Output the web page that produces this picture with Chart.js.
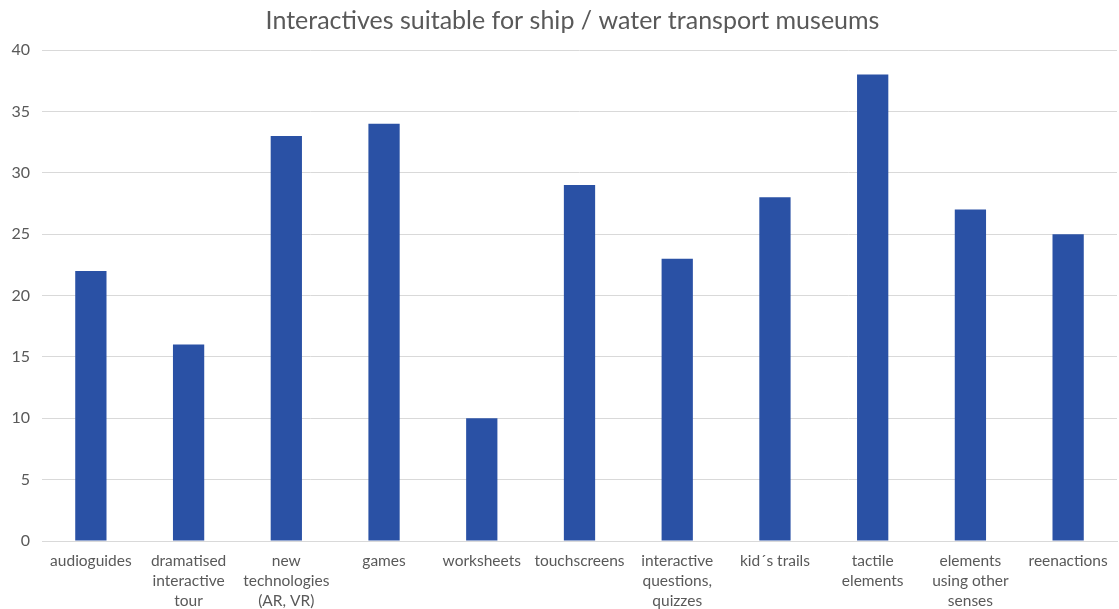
<!DOCTYPE html>
<html lang="en">
<head>
    <meta charset="UTF-8" />
    <title>Interactives suitable for ship / water transport museums</title>
    <script src="https://cdn.jsdelivr.net/npm/chart.js"></script>
    <style>
        html, body { margin: 0; padding: 0; background: #fff; }
        #wrap { width: 1119px; height: 609px; }
    </style>
</head>
<body>
<div id="wrap"><canvas id="museumChart"></canvas></div>

<script>
    // categories (multi-line labels) and counts
    const categories = [
        'audioguides',
        ['dramatised', 'interactive', 'tour'],
        ['new', 'technologies', '(AR, VR)'],
        'games',
        'worksheets',
        'touchscreens',
        ['interactive', 'questions,', 'quizzes'],
        'kid´s trails',
        ['tactile', 'elements'],
        ['elements', 'using other', 'senses'],
        'reenactions'
    ];
    const counts = [22, 16, 33, 34, 10, 29, 23, 28, 38, 27, 25];
    const yTicks = [0, 5, 10, 15, 20, 25, 30, 35, 40];

    const textColor = '#595959';
    const fontFamily = "'Lato', 'Noto Sans', sans-serif";

    // nudge the title a little right so it sits over the plot
    const titleShift = {
        id: 'titleShift',
        afterLayout(chart) {
            if (chart.titleBlock) chart.titleBlock.left += 28;
        }
    };

    const ctx = document.getElementById('museumChart').getContext('2d');
    new Chart(ctx, {
        type: 'bar',
        data: {
            labels: categories,
            datasets: [{
                data: counts,
                backgroundColor: '#2a51a5',
                categoryPercentage: 1,
                barPercentage: 0.32
            }]
        },
        options: {
            responsive: true,
            maintainAspectRatio: false,
            animation: false,
            layout: { padding: { left: 0, right: 2, top: 0, bottom: 0 } },
            plugins: {
                legend: { display: false },
                tooltip: { enabled: false },
                title: {
                    display: true,
                    text: 'Interactives suitable for ship / water transport museums',
                    color: textColor,
                    font: { family: fontFamily, size: 25, weight: 'normal', lineHeight: 1.2 },
                    padding: { top: 6, bottom: 14 }
                }
            },
            scales: {
                x: {
                    grid: { display: false, drawTicks: false },
                    border: { display: true, color: '#d9d9d9', width: 1 },
                    ticks: {
                        color: textColor,
                        font: { family: fontFamily, size: 15.5, lineHeight: 1.3 },
                        padding: 10,
                        maxRotation: 0,
                        autoSkip: false
                    },
                    afterFit: (scale) => { scale.height = 68; }
                },
                y: {
                    min: 0,
                    max: 40,
                    afterBuildTicks: (scale) => { scale.ticks = yTicks.map(v => ({ value: v })); },
                    grid: { color: '#d9d9d9', drawTicks: false },
                    border: { display: false },
                    ticks: {
                        color: textColor,
                        font: { family: fontFamily, size: 16 },
                        padding: 12
                    },
                    afterFit: (scale) => { scale.width = 42; }
                }
            }
        },
        plugins: [titleShift]
    });
</script>
</body>
</html>
